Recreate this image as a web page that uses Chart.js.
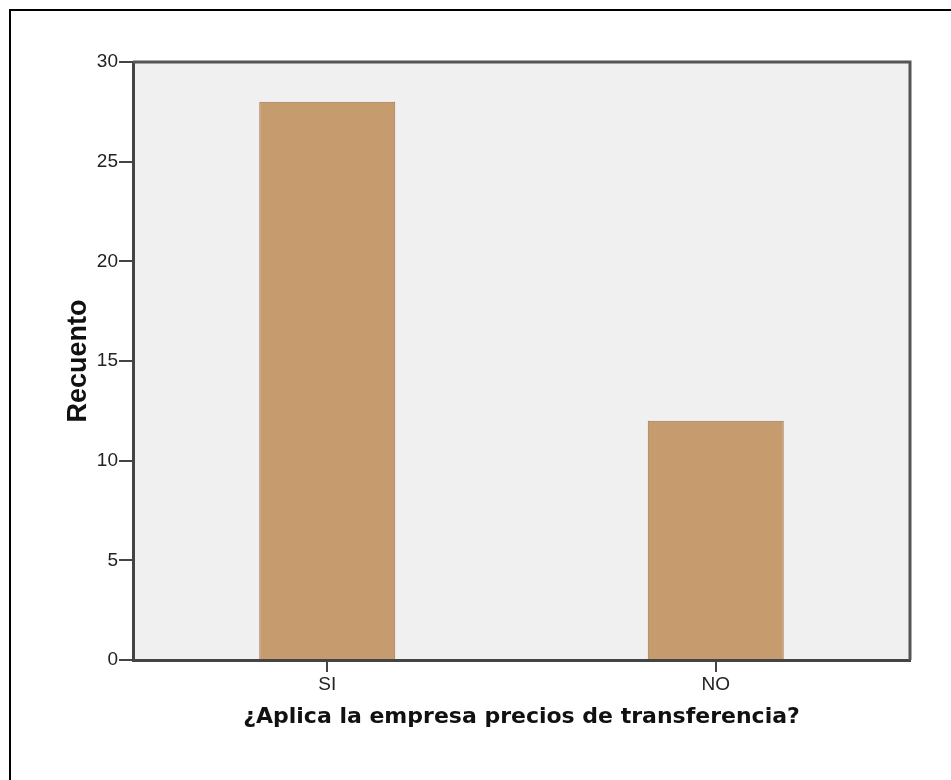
<!DOCTYPE html>
<html>
<head>
<meta charset="utf-8">
<script src="https://cdn.jsdelivr.net/npm/chart.js@4/dist/chart.umd.min.js"></script>
<style>
  html, body { margin: 0; padding: 0; background: #fff; }
  #wrap { position: relative; width: 951px; height: 780px; }
  #frame { position: absolute; left: 9px; top: 9px; right: -5px; bottom: -5px;
           border-left: 2px solid #000; border-top: 2px solid #000; pointer-events: none; }
  canvas { display: block; }
</style>
</head>
<body>
<div id="wrap">
  <canvas id="c" width="951" height="780"></canvas>
  <div id="frame"></div>
</div>
<script>
const categories = ['SI', 'NO'];
const counts = [28, 12];
const yTicks = [0, 5, 10, 15, 20, 25, 30];
const xTitle = '¿Aplica la empresa precios de transferencia?';
const yTitle = 'Recuento';

const plotBg = {
  id: 'plotBg',
  beforeDraw(chart) {
    const { ctx, chartArea: a } = chart;
    ctx.save();
    ctx.fillStyle = '#F0F0F0';
    ctx.fillRect(a.left, a.top, a.right - a.left, a.bottom - a.top);
    ctx.restore();
  },
  afterDatasetsDraw(chart) {
    const { ctx, chartArea: a } = chart;
    ctx.save();
    ctx.strokeStyle = '#555';
    ctx.lineWidth = 3;
    ctx.beginPath();
    ctx.moveTo(a.left, a.top);
    ctx.lineTo(a.right, a.top);
    ctx.lineTo(a.right, a.bottom);
    ctx.stroke();
    ctx.restore();
  }
};

new Chart(document.getElementById('c'), {
  type: 'bar',
  data: {
    labels: categories,
    datasets: [{
      data: counts,
      backgroundColor: '#C69B6D',
      borderColor: '#9C744A',
      borderWidth: 1,
      barPercentage: 0.35,
      categoryPercentage: 1.0
    }]
  },
  options: {
    responsive: false,
    animation: false,
    devicePixelRatio: 1,
    layout: { padding: { top: 62, right: 41, left: 0, bottom: 0 } },
    plugins: { legend: { display: false }, tooltip: { enabled: false } },
    scales: {
      x: {
        afterFit(s) { s.height = 120; },
        grid: { display: true, drawOnChartArea: false, offset: false, color: '#444', lineWidth: 2, tickLength: 12 },
        border: { display: true, color: '#444', width: 3 },
        ticks: { color: '#222', padding: 1, font: { family: '"Liberation Sans", Arial, sans-serif', size: 19 } },
        title: {
          display: true, text: xTitle, color: '#111',
          font: { family: '"DejaVu Sans", sans-serif', size: 22, weight: 'bold' },
          padding: { top: 0, bottom: 50 }
        }
      },
      y: {
        min: 0, max: 30,
        afterFit(s) { s.width = 133; },
        afterBuildTicks(s) { s.ticks = yTicks.map(v => ({ value: v })); },
        grid: { display: true, drawOnChartArea: false, color: '#444', lineWidth: 2, tickLength: 14 },
        border: { display: true, color: '#444', width: 3 },
        ticks: { color: '#222', padding: 1, font: { family: '"Liberation Sans", Arial, sans-serif', size: 19 } },
        title: {
          display: true, text: yTitle, color: '#111',
          font: { family: '"Liberation Sans", Arial, sans-serif', size: 27, weight: 'bold' },
          padding: { top: 62, bottom: 0 }
        }
      }
    }
  },
  plugins: [plotBg]
});
</script>
</body>
</html>
